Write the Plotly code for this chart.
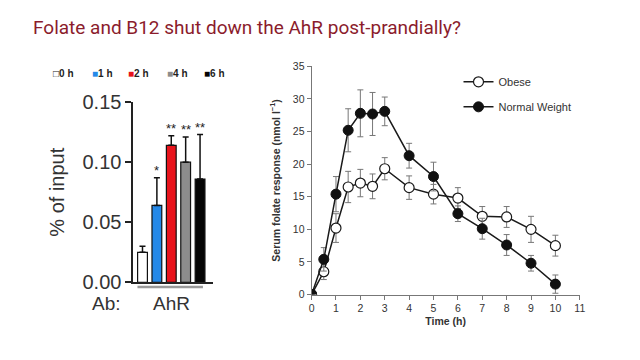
import plotly.graph_objects as go

# ---- Left panel data (ChIP % of input) ----
bar_labels = ["0 h", "1 h", "2 h", "4 h", "6 h"]
bar_values = [0.025, 0.064, 0.114, 0.100, 0.086]
bar_err_up = [0.005, 0.023, 0.008, 0.021, 0.037]
bar_colors = ["#ffffff", "#2589e8", "#e8141c", "#8c8c8c", "#050505"]
bar_sig = ["", "*", "**", "**", "**"]
bar_yticks = [0.0, 0.05, 0.10, 0.15]
bar_yticklabels = ["0.00", "0.05", "0.10", "0.15"]

# ---- Right panel data (serum folate) ----
time_h = [0, 0.5, 1, 1.5, 2, 2.5, 3, 4, 5, 6, 7, 8, 9, 10]
obese = [0, 3.5, 10.2, 16.5, 17.1, 16.6, 19.3, 16.4, 15.4, 14.8, 12.0, 11.9, 10.0, 7.5]
obese_err = [0, 1.2, 2.2, 2.4, 2.1, 1.9, 1.7, 1.8, 1.5, 1.6, 1.5, 1.6, 2.0, 1.6]
normal = [0, 5.4, 15.4, 25.2, 27.8, 27.7, 28.1, 21.3, 18.1, 12.4, 10.1, 7.6, 4.8, 1.6]
normal_err = [0, 1.8, 2.7, 3.3, 3.6, 3.3, 2.2, 1.9, 2.2, 1.2, 1.6, 1.6, 1.2, 1.4]

fig = go.Figure()

bx = list(range(len(bar_labels)))
fig.add_trace(go.Bar(
    x=bx, y=bar_values, width=0.68,
    marker=dict(color=bar_colors, line=dict(color="#111111", width=1.2)),
    error_y=dict(type="data", symmetric=False, array=bar_err_up,
                 arrayminus=[0] * len(bar_err_up), color="#111111",
                 thickness=1.5, width=3),
    xaxis="x", yaxis="y", showlegend=False,
))

for i, s in enumerate(bar_sig):
    if s:
        fig.add_annotation(x=bx[i], y=bar_values[i] + bar_err_up[i], xref="x", yref="y",
                           text=s, showarrow=False, yanchor="bottom", yshift=-2,
                           font=dict(size=13, color="#222222", family="Liberation Sans"))

# left legend as text
leg_x = [49, 88, 125, 164, 202]
for i, lab in enumerate(bar_labels):
    sym = "□" if i == 0 else "■"
    col = "#222222" if i == 0 else bar_colors[i]
    fig.add_annotation(x=leg_x[i] / 640, y=1 - 67 / 360, xref="paper", yref="paper",
                       text=f"<span style='color:{col}'>{sym}</span><b>{' '.join(lab.replace(' ', ''))}</b>",
                       showarrow=False, xanchor="left", yanchor="middle",
                       font=dict(size=10, color="#222222", family="Liberation Sans"))

fig.add_annotation(x=105 / 640, y=1 - 312 / 360, xref="paper", yref="paper", text="Ab:",
                   showarrow=False, xanchor="center", yanchor="middle",
                   font=dict(size=19, color="#333333", family="Liberation Sans"))
fig.add_annotation(x=171 / 640, y=1 - 312 / 360, xref="paper", yref="paper", text="AhR",
                   showarrow=False, xanchor="center", yanchor="middle",
                   font=dict(size=19, color="#333333", family="Liberation Sans"))
fig.add_shape(type="line", xref="x", yref="paper", x0=-0.35, x1=4.2,
              y0=1 - 294 / 360, y1=1 - 294 / 360, line=dict(color="#9a9a9a", width=2.5))

# ---- right traces ----
fig.add_trace(go.Scatter(
    x=time_h, y=obese, mode="lines+markers", name="Obese",
    line=dict(color="#1a1a1a", width=1.5),
    marker=dict(size=10, color="#ffffff", line=dict(color="#1a1a1a", width=1.2)),
    error_y=dict(type="data", array=obese_err, color="#777777", thickness=1, width=3),
    xaxis="x2", yaxis="y2", legendgroup="a",
))
fig.add_trace(go.Scatter(
    x=time_h, y=normal, mode="lines+markers", name="Normal Weight",
    line=dict(color="#1a1a1a", width=1.5),
    marker=dict(size=10, color="#111111", line=dict(color="#111111", width=1)),
    error_y=dict(type="data", array=normal_err, color="#777777", thickness=1, width=3),
    xaxis="x2", yaxis="y2", legendgroup="b",
))

fig.update_layout(
    width=640, height=360,
    margin=dict(l=0, r=0, t=0, b=0),
    paper_bgcolor="#ffffff", plot_bgcolor="#ffffff",
    title=dict(text="Folate and B12 shut down the AhR post-prandially?",
               x=33 / 640, xanchor="left", y=1 - 27 / 360, yanchor="middle",
               font=dict(size=19, color="#8b1c2c", family="Roboto")),
    xaxis=dict(domain=[132 / 640, 213 / 640], range=[-0.65, 4.9], showticklabels=False,
               showline=True, linecolor="#222222", linewidth=1.5, ticks="", showgrid=False,
               zeroline=False, fixedrange=True),
    yaxis=dict(domain=[1 - 289 / 360, 1 - 97 / 360], range=[0, 0.15],
               tickvals=bar_yticks, ticktext=bar_yticklabels, ticks="outside", ticklen=6,
               tickwidth=1.5, tickcolor="#222222", showline=True, linecolor="#222222",
               linewidth=1.5, showgrid=False, zeroline=False,
               tickfont=dict(size=20, color="#333333", family="Liberation Sans"),
               title=dict(text="% of input", standoff=12,
                          font=dict(size=20, color="#333333", family="Liberation Sans"))),
    xaxis2=dict(domain=[313 / 640, 585 / 640], range=[0, 11], dtick=1, tick0=0,
                ticks="outside", ticklen=4, tickcolor="#777777", showline=True,
                linecolor="#777777", linewidth=1, showgrid=False, zeroline=False,
                anchor="y2",
                tickfont=dict(size=10.5, color="#333333", family="Liberation Sans"),
                title=dict(text="<b>Time (h)</b>", standoff=4,
                           font=dict(size=10.5, color="#333333", family="Liberation Sans"))),
    yaxis2=dict(domain=[1 - 302 / 360, 1 - 59 / 360], range=[0, 35], dtick=5,
                ticks="outside", ticklen=4, tickcolor="#777777", showline=True,
                linecolor="#777777", linewidth=1, showgrid=False, zeroline=False,
                anchor="x2",
                tickfont=dict(size=10.5, color="#333333", family="Liberation Sans"),
                title=dict(text="<b>Serum folate response (nmol l<sup>−1</sup>)</b>", standoff=10,
                           font=dict(size=10.5, color="#333333", family="Liberation Sans"))),
    legend=dict(x=462 / 640, y=1 - 60 / 360, xanchor="left", yanchor="top",
                bgcolor="rgba(0,0,0,0)", traceorder="grouped", tracegroupgap=6,
                font=dict(size=11, color="#333333", family="Liberation Sans")),
)

fig.write_html("out.html", config={"displayModeBar": False},
               post_script="document.body.style.margin='0px';")
